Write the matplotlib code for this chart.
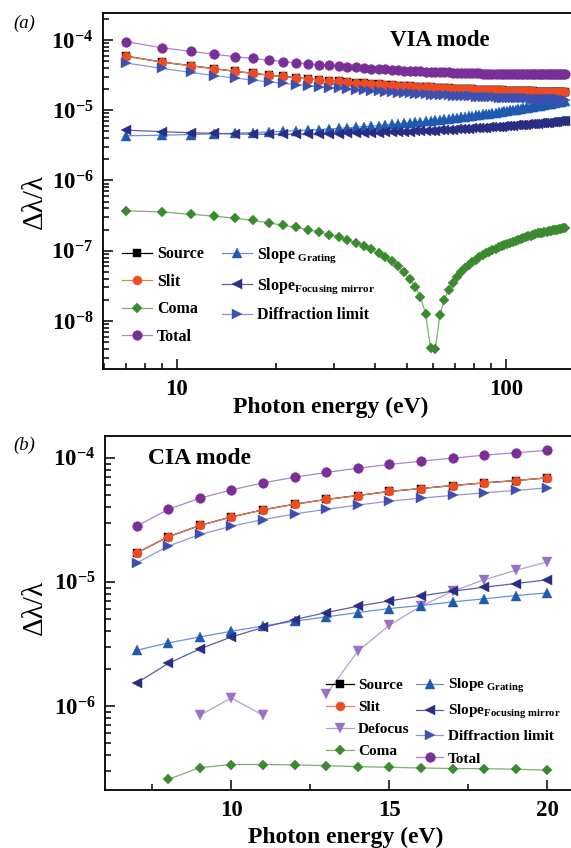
import numpy as np
import matplotlib
matplotlib.use("Agg")
import matplotlib.pyplot as plt
from matplotlib.ticker import LogLocator, NullFormatter, MultipleLocator, FixedLocator

plt.rcParams['font.family'] = ['Liberation Serif', 'DejaVu Serif']
plt.rcParams['font.weight'] = 'bold'
plt.rcParams['mathtext.fontset'] = 'custom'
plt.rcParams['mathtext.rm'] = 'Liberation Serif:bold'
plt.rcParams['mathtext.bf'] = 'Liberation Serif:bold'
plt.rcParams['mathtext.it'] = 'Liberation Serif:italic:bold'

# ---- (a) VIA mode, photon energy 7..151 eV in 2 eV steps ----
via_energy = list(range(7, 152, 2))
# x1e-5
via_source = [5.89, 4.85, 4.30, 3.90, 3.58, 3.35, 3.16, 3.02, 2.90, 2.80,
              2.71, 2.63, 2.57, 2.51, 2.46, 2.41, 2.37, 2.33, 2.30, 2.27,
              2.24, 2.21, 2.19, 2.17, 2.15, 2.13, 2.11, 2.09, 2.08, 2.06,
              2.05, 2.03, 2.02, 2.01, 2.00, 1.99, 1.98, 1.97, 1.96, 1.95,
              1.94, 1.94, 1.93, 1.92, 1.92, 1.91, 1.90, 1.90, 1.89, 1.89,
              1.88, 1.88, 1.87, 1.87, 1.86, 1.86, 1.85, 1.85, 1.84, 1.84,
              1.84, 1.83, 1.83, 1.83, 1.82, 1.82, 1.82, 1.81, 1.81, 1.81,
              1.80, 1.80, 1.80]
via_slit = list(via_source)  # slit and source curves coincide
# x1e-5
via_diffraction = [4.70, 3.94, 3.45, 3.11, 2.87, 2.68, 2.53, 2.41, 2.31, 2.22,
                   2.15, 2.09, 2.04, 1.99, 1.95, 1.91, 1.88, 1.85, 1.82, 1.80,
                   1.77, 1.75, 1.73, 1.72, 1.70, 1.68, 1.67, 1.66, 1.64, 1.63,
                   1.62, 1.61, 1.60, 1.59, 1.58, 1.57, 1.57, 1.56, 1.55, 1.54,
                   1.54, 1.53, 1.53, 1.52, 1.51, 1.51, 1.50, 1.50, 1.49, 1.49,
                   1.49, 1.48, 1.48, 1.47, 1.47, 1.47, 1.46, 1.46, 1.46, 1.45,
                   1.45, 1.45, 1.44, 1.44, 1.44, 1.44, 1.43, 1.43, 1.43, 1.43,
                   1.42, 1.42, 1.42]
# x1e-6
via_slope_grating = [4.32, 4.41, 4.51, 4.61, 4.70, 4.80, 4.90, 5.00, 5.10, 5.20,
                     5.30, 5.41, 5.51, 5.62, 5.72, 5.83, 5.94, 6.05, 6.16, 6.27,
                     6.38, 6.49, 6.61, 6.72, 6.84, 6.95, 7.07, 7.19, 7.31, 7.43,
                     7.55, 7.68, 7.80, 7.92, 8.05, 8.18, 8.30, 8.43, 8.56, 8.69,
                     8.82, 8.96, 9.09, 9.22, 9.36, 9.49, 9.63, 9.77, 9.91, 10.05,
                     10.19, 10.33, 10.47, 10.62, 10.76, 10.91, 11.05, 11.20, 11.35, 11.50,
                     11.65, 11.80, 11.95, 12.11, 12.26, 12.42, 12.57, 12.73, 12.89, 13.05,
                     13.21, 13.37, 13.53]
# x1e-6
via_slope_mirror = [5.20, 4.95, 4.78, 4.67, 4.60, 4.56, 4.55, 4.55, 4.56, 4.58,
                    4.60, 4.62, 4.65, 4.68, 4.71, 4.74, 4.77, 4.80, 4.83, 4.86,
                    4.89, 4.92, 4.95, 4.99, 5.02, 5.06, 5.10, 5.13, 5.17, 5.21,
                    5.25, 5.29, 5.33, 5.37, 5.41, 5.45, 5.50, 5.54, 5.58, 5.62,
                    5.66, 5.70, 5.74, 5.78, 5.82, 5.86, 5.90, 5.94, 5.98, 6.02,
                    6.06, 6.10, 6.14, 6.18, 6.22, 6.27, 6.31, 6.35, 6.40, 6.44,
                    6.49, 6.53, 6.58, 6.63, 6.68, 6.73, 6.78, 6.83, 6.88, 6.94,
                    6.99, 7.05, 7.10]
# x1e-7
via_coma = [3.70, 3.56, 3.30, 3.10, 2.90, 2.70, 2.50, 2.30, 2.15, 2.00,
            1.84, 1.70, 1.57, 1.42, 1.30, 1.17, 1.05, 0.93, 0.82, 0.71,
            0.60, 0.49, 0.39, 0.305, 0.22, 0.127, 0.041, 0.040, 0.12, 0.20,
            0.277, 0.351, 0.424, 0.494, 0.563, 0.629, 0.684, 0.746, 0.805, 0.863,
            0.918, 0.972, 1.02, 1.07, 1.12, 1.17, 1.21, 1.25, 1.29, 1.34,
            1.38, 1.43, 1.47, 1.52, 1.56, 1.60, 1.63, 1.67, 1.71, 1.76,
            1.78, 1.81, 1.83, 1.86, 1.89, 1.92, 1.94, 1.97, 2.00, 2.03,
            2.06, 2.09, 2.12]
# x1e-5
via_total = [9.45, 7.75, 6.88, 6.27, 5.78, 5.45, 5.15, 4.93, 4.74, 4.58,
             4.45, 4.33, 4.23, 4.14, 4.06, 3.98, 3.92, 3.86, 3.81, 3.77,
             3.72, 3.67, 3.64, 3.62, 3.59, 3.55, 3.53, 3.50, 3.48, 3.46,
             3.45, 3.42, 3.41, 3.40, 3.38, 3.37, 3.36, 3.35, 3.34, 3.32,
             3.32, 3.32, 3.31, 3.30, 3.30, 3.29, 3.28, 3.28, 3.27, 3.28,
             3.27, 3.27, 3.26, 3.27, 3.26, 3.27, 3.26, 3.26, 3.26, 3.26,
             3.26, 3.26, 3.26, 3.27, 3.26, 3.27, 3.27, 3.27, 3.28, 3.28,
             3.28, 3.28, 3.29]

# ---- (b) CIA mode, photon energy 7..20 eV ----
cia_energy = [7, 8, 9, 10, 11, 12, 13, 14, 15, 16, 17, 18, 19, 20]
cia_source = [1.71, 2.31, 2.85, 3.34, 3.81, 4.23, 4.62, 4.97, 5.36, 5.66, 5.98, 6.28, 6.56, 6.90]   # x1e-5
cia_slit = [1.71, 2.31, 2.85, 3.34, 3.81, 4.23, 4.62, 4.97, 5.36, 5.66, 5.98, 6.28, 6.56, 6.90]     # x1e-5
cia_diffraction = [1.42, 1.94, 2.41, 2.81, 3.18, 3.53, 3.85, 4.16, 4.48, 4.73, 4.98, 5.23, 5.46, 5.73]  # x1e-5
cia_total = [2.81, 3.84, 4.73, 5.52, 6.28, 6.98, 7.62, 8.26, 8.84, 9.40, 9.95, 10.5, 11.0, 11.5]   # x1e-5
cia_slope_grating = [2.81, 3.22, 3.60, 4.00, 4.41, 4.82, 5.22, 5.66, 6.10, 6.45, 6.90, 7.30, 7.76, 8.15]  # x1e-6
cia_slope_mirror = [1.53, 2.20, 2.88, 3.60, 4.29, 4.97, 5.66, 6.37, 7.03, 7.71, 8.41, 9.06, 9.70, 10.4]   # x1e-6
cia_defocus = [np.nan, np.nan, 0.84, 1.16, 0.84, np.nan, 1.24, 2.76, 4.48, 6.37, 8.40, 10.4, 12.4, 14.5]  # x1e-6
cia_coma = [np.nan, 2.56, 3.18, 3.37, 3.37, 3.35, 3.30, 3.24, 3.20, 3.16, 3.13, 3.12, 3.09, 3.03]  # x1e-7

lab_grating = r'Slope$_{\ \mathrm{Grating}}$'
lab_mirror = r'Slope$_{\mathrm{Focusing\ mirror}}$'

# marker colour, line colour, marker, size
styles = {
    'Source': ('black', 'black', 's', 5.5),
    'Slit': ('#EE4B22', '#F27A5A', 'o', 6.5),
    'Coma': ('#3C8A30', '#7DB070', 'D', 5.5),
    'Total': ('#7A2E98', '#A987C6', 'o', 7),
    'Grating': ('#1E5BB0', '#6A90D4', '^', 7),
    'Mirror': ('#2A2D84', '#5A5DA8', '<', 7),
    'Diffraction': ('#3D50B0', '#8E96DA', '>', 7),
    'Defocus': ('#9673C3', '#B89CD8', 'v', 7),
}


def draw(ax, x, y, key, label):
    mc, lc, m, ms = styles[key]
    line, = ax.plot(x, y, color=lc, lw=0.9, marker=m, ms=ms,
                    markerfacecolor=mc, markeredgecolor=mc, markeredgewidth=0.3,
                    label=label)
    return line


def style_axes(ax):
    for s in ax.spines.values():
        s.set_linewidth(1.3)
    ax.tick_params(which='both', direction='in', top=False, right=False,
                   labelsize=16.5, width=1.1)
    ax.tick_params(which='major', length=7, pad=7)
    ax.tick_params(which='minor', length=4)


fig = plt.figure(figsize=(5.71, 8.48), dpi=100)
W, H = 571.0, 848.0

# ---------------- panel (a) ----------------
ax1 = fig.add_axes([103 / W, 1 - 369 / H, 477 / W, 356 / H])
e = np.array(via_energy)
h_src = draw(ax1, e, np.array(via_source) * 1e-5, 'Source', 'Source')
h_slit = draw(ax1, e, np.array(via_slit) * 1e-5, 'Slit', 'Slit')
h_coma = draw(ax1, e, np.array(via_coma) * 1e-7, 'Coma', 'Coma')
h_gr = draw(ax1, e, np.array(via_slope_grating) * 1e-6, 'Grating', lab_grating)
h_fm = draw(ax1, e, np.array(via_slope_mirror) * 1e-6, 'Mirror', lab_mirror)
h_dif = draw(ax1, e, np.array(via_diffraction) * 1e-5, 'Diffraction', 'Diffraction limit')
h_tot = draw(ax1, e, np.array(via_total) * 1e-5, 'Total', 'Total')
ax1.set_xscale('log')
ax1.set_yscale('log')
ax1.set_xlim(5.96, 168)
ax1.set_ylim(2.07e-9, 2.42e-4)
ax1.xaxis.set_major_locator(FixedLocator([10, 100]))
ax1.set_xticklabels(['10', '100'])
ax1.xaxis.set_minor_locator(LogLocator(base=10, subs=np.arange(2, 10), numticks=20))
ax1.xaxis.set_minor_formatter(NullFormatter())
ax1.yaxis.set_major_locator(FixedLocator([1e-8, 1e-7, 1e-6, 1e-5, 1e-4]))
ax1.set_yticklabels([r'$10^{-8}$', r'$10^{-7}$', r'$10^{-6}$', r'$10^{-5}$', r'$10^{-4}$'])
ax1.yaxis.set_minor_locator(LogLocator(base=10, subs=np.arange(2, 10), numticks=20))
ax1.yaxis.set_minor_formatter(NullFormatter())
style_axes(ax1)
ax1.text(440 / W, 1 - 41 / H, 'VIA mode', transform=fig.transFigure,
         ha='center', va='center', fontsize=16.5, fontweight='bold')
fig.legend(handles=[h_src, h_slit, h_coma, h_tot, h_gr, h_fm, h_dif], ncol=2,
           loc='upper left', bbox_to_anchor=(122 / W, 1 - 245 / H),
           frameon=False, borderpad=0, borderaxespad=0, handlelength=1.9,
           handletextpad=0.3, columnspacing=1.1, labelspacing=0.72,
           prop={'size': 11.5, 'weight': 'bold'})

# ---------------- panel (b) ----------------
ax2 = fig.add_axes([105 / W, 1 - 790 / H, 474 / W, 354 / H])
c = np.array(cia_energy)
g_src = draw(ax2, c, np.array(cia_source) * 1e-5, 'Source', 'Source')
g_slit = draw(ax2, c, np.array(cia_slit) * 1e-5, 'Slit', 'Slit')
g_def = draw(ax2, c, np.array(cia_defocus) * 1e-6, 'Defocus', 'Defocus')
g_coma = draw(ax2, c, np.array(cia_coma) * 1e-7, 'Coma', 'Coma')
g_gr = draw(ax2, c, np.array(cia_slope_grating) * 1e-6, 'Grating', lab_grating)
g_fm = draw(ax2, c, np.array(cia_slope_mirror) * 1e-6, 'Mirror', lab_mirror)
g_dif = draw(ax2, c, np.array(cia_diffraction) * 1e-5, 'Diffraction', 'Diffraction limit')
g_tot = draw(ax2, c, np.array(cia_total) * 1e-5, 'Total', 'Total')
ax2.set_yscale('log')
ax2.set_xlim(6, 21)
ax2.set_ylim(2.1e-7, 1.5e-4)
ax2.xaxis.set_major_locator(FixedLocator([10, 15, 20]))
ax2.set_xticklabels(['10', '15', '20'])
ax2.xaxis.set_minor_locator(MultipleLocator(2.5))
ax2.yaxis.set_major_locator(FixedLocator([1e-6, 1e-5, 1e-4]))
ax2.set_yticklabels([r'$10^{-6}$', r'$10^{-5}$', r'$10^{-4}$'])
ax2.yaxis.set_minor_locator(LogLocator(base=10, subs=np.arange(2, 10), numticks=20))
ax2.yaxis.set_minor_formatter(NullFormatter())
style_axes(ax2)
ax2.text(200 / W, 1 - 459 / H, 'CIA mode', transform=fig.transFigure,
         ha='center', va='center', fontsize=17, fontweight='bold')
fig.legend(handles=[g_src, g_slit, g_def, g_coma, g_gr, g_fm, g_dif, g_tot], ncol=2,
           loc='upper left', bbox_to_anchor=(326 / W, 1 - 677 / H),
           frameon=False, borderpad=0, borderaxespad=0, handlelength=1.8,
           handletextpad=0.3, columnspacing=0.4, labelspacing=0.55,
           prop={'size': 11, 'weight': 'bold'})

# axis labels and panel tags
for yc in (201, 607):
    fig.text(35 / W, 1 - yc / H, 'Δλ/λ', rotation=90, ha='center', va='center',
             fontsize=21, fontweight='normal')
fig.text(331 / W, 1 - 407 / H, 'Photon energy (eV)', ha='center', va='center',
         fontsize=17, fontweight='bold')
fig.text(346 / W, 1 - 837 / H, 'Photon energy (eV)', ha='center', va='center',
         fontsize=17, fontweight='bold')
fig.text(24 / W, 1 - 23 / H, '(a)', ha='center', va='center', fontsize=13.5,
         fontstyle='italic', fontweight='normal')
fig.text(24 / W, 1 - 445 / H, '(b)', ha='center', va='center', fontsize=13.5,
         fontstyle='italic', fontweight='normal')

fig.savefig('out.png', dpi=100)
